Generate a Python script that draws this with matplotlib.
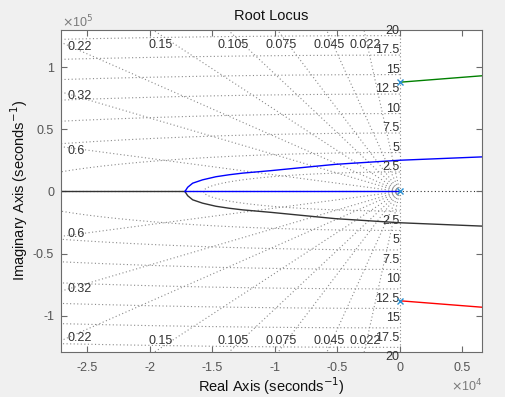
import numpy as np
import matplotlib
matplotlib.use("Agg")
import matplotlib.pyplot as plt
from matplotlib.ticker import FuncFormatter, FixedLocator

plt.rcParams['font.family'] = ['Liberation Sans', 'DejaVu Sans']

# ---------------- data ----------------
# complex branch leaving the breakaway point (upper half; lower is its mirror)
branch_re = [-1.720e4, -1.698e4, -1.658e4, -1.579e4, -1.472e4, -1.366e4, -1.259e4,
             -1.033e4, -0.770e4, -0.515e4, 0.0, 0.658e4]
branch_im = [0.0, 0.034e5, 0.067e5, 0.094e5, 0.119e5, 0.135e5, 0.148e5,
             0.168e5, 0.194e5, 0.219e5, 0.252e5, 0.279e5]
# real-axis segments
blue_axis_re = [-1.72e4, 0.0]
black_axis_re = [-3.0e4, -1.72e4]
# branches from the complex poles
osc_re = [0.0, 0.658e4]
osc_im = [0.881e5, 0.933e5]
# open-loop poles
pole_re = [0.0, 0.0, 0.0]
pole_im = [0.0, 0.881e5, -0.881e5]
# grid: damping ratios and natural-frequency labels
zetas = [0.022, 0.045, 0.075, 0.105, 0.15, 0.22, 0.32, 0.6]
zeta_labels = ['0.022', '0.045', '0.075', '0.105', '0.15', '0.22', '0.32', '0.6']
wn_labels = [2.5, 5, 7.5, 10, 12.5, 15, 17.5, 20]
wn_scale = 2 * np.pi * 1000.0
xticks = [-2.5e4, -2.0e4, -1.5e4, -1.0e4, -0.5e4, 0.0, 0.5e4]
yticks = [-1.0e5, -0.5e5, 0.0, 0.5e5, 1.0e5]
xlim = (-2.712e4, 0.658e4)
ylim = (-1.294e5, 1.302e5)

# ---------------- figure ----------------
W, H = 505, 397
fig = plt.figure(figsize=(W / 100, H / 100), dpi=100, facecolor='#f0f0f0')
ax = fig.add_axes([61 / W, (H - 352) / H, 421 / W, 322 / H])
ax.set_facecolor('white')
ax.set_xlim(*xlim)
ax.set_ylim(*ylim)

gcol = '#8a8a8a'
dot = (0, (1, 2.2))
lab_col = '#333333'
gfs = 9

# wn circles (semicircles in LHP)
th = np.linspace(np.pi / 2, 3 * np.pi / 2, 800)
for wl in wn_labels:
    r = wl * wn_scale
    ax.plot(r * np.cos(th), r * np.sin(th), color=gcol, lw=0.8, ls=dot, zorder=1)
    s = f'{wl:g}'
    ax.annotate(s, (0, r), xytext=(0, -1), textcoords='offset pixels', ha='right', va='bottom',
                fontsize=gfs, color=lab_col, annotation_clip=False, zorder=3)
    ax.annotate(s, (0, -r), xytext=(0, -4), textcoords='offset pixels', ha='right', va='top',
                fontsize=gfs, color=lab_col, annotation_clip=False, zorder=3)

# damping rays
R = 1e7
for z, zl in zip(zetas, zeta_labels):
    s = np.sqrt(1 - z * z)
    for sg in (1, -1):
        ax.plot([0, -R * z], [0, sg * R * s], color=gcol, lw=0.8, ls=dot, zorder=1)
    xt = -ylim[1] * z / s
    if xt > xlim[0]:
        ya = ylim[1] - 0.04e5
        xa = -ya * z / s
        ax.annotate(zl, (xa, ya), xytext=(0, -10), textcoords='offset pixels', ha='center',
                    va='center', fontsize=gfs, color=lab_col, zorder=3)
        ax.annotate(zl, (xa, -ya), xytext=(0, 7), textcoords='offset pixels', ha='center',
                    va='center', fontsize=gfs, color=lab_col, zorder=3)
    else:
        yi = -xlim[0] * s / z
        ax.annotate(zl, (xlim[0], yi), xytext=(6.5, -4.5), textcoords='offset pixels', ha='left',
                    va='center', fontsize=gfs, color=lab_col, zorder=3)
        ax.annotate(zl, (xlim[0], -yi), xytext=(6.5, 2.5), textcoords='offset pixels', ha='left',
                    va='center', fontsize=gfs, color=lab_col, zorder=3)

# imaginary axis (zeta = 0) and real axis
ax.axvline(0, color=gcol, lw=0.8, ls=dot, zorder=1)
ax.axhline(0, color='#333333', lw=0.8, ls=dot, zorder=1)

# locus branches
lw = 1.0
ax.plot(black_axis_re, [0, 0], color='#333333', lw=lw, zorder=2)
ax.plot(branch_re, -np.array(branch_im), color='#333333', lw=lw, zorder=2)
ax.plot(blue_axis_re, [0, 0], color='#0000ff', lw=lw, zorder=2)
ax.plot(branch_re, branch_im, color='#0000ff', lw=lw, zorder=2)
ax.plot(osc_re, osc_im, color='#008000', lw=lw, zorder=2)
ax.plot(osc_re, -np.array(osc_im), color='#ff0000', lw=lw, zorder=2)
ax.plot(pole_re, pole_im, ls='none', marker='x', ms=5, mew=1.0, color='#2a8fd0', zorder=4)

# axes styling
acol = '#6b6b6b'
for sp in ax.spines.values():
    sp.set_color(acol)
    sp.set_linewidth(0.8)
ax.xaxis.set_major_locator(FixedLocator(xticks))
ax.yaxis.set_major_locator(FixedLocator(yticks))
ax.xaxis.set_major_formatter(FuncFormatter(lambda v, p: f'{v / 1e4:g}'))
ax.yaxis.set_major_formatter(FuncFormatter(lambda v, p: f'{v / 1e5:g}'))
ax.tick_params(direction='in', length=4, width=0.8, color=acol, labelcolor='#555555',
               labelsize=9, top=True, right=True)
ax.tick_params(axis='x', pad=7)
ax.tick_params(axis='y', pad=5)

ax.set_title('Root Locus', fontsize=10.5, color='#111111', pad=7)
ax.set_xlabel('Real Axis (seconds$^{-1}$)', fontsize=10.5, color='#111111', labelpad=1)
ax.set_ylabel('Imaginary Axis (seconds$^{-1}$)', fontsize=10.5, color='#111111', labelpad=2)

fig.text(62 / W, 1 - 22 / H, r'$\times$10$^{5}$', fontsize=9, color='#7a7a7a', ha='left', va='center')
fig.text(482 / W, 1 - 386 / H, r'$\times$10$^{4}$', fontsize=9, color='#7a7a7a', ha='right', va='center')

fig.savefig('out.png', dpi=100, facecolor=fig.get_facecolor())
